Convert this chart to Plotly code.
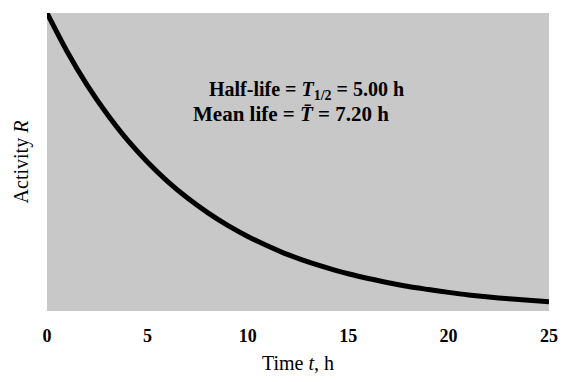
import plotly.graph_objects as go

# Time (h) and activity (relative)
time_h = list(range(0, 26))
activity = [1.000, 0.871, 0.758, 0.660, 0.574, 0.500, 0.435, 0.379, 0.330, 0.287,
            0.250, 0.218, 0.189, 0.165, 0.144, 0.125, 0.109, 0.095, 0.082, 0.072,
            0.0625, 0.054, 0.047, 0.041, 0.036, 0.031]
x_ticks = [0, 5, 10, 15, 20, 25]

SERIF = "Liberation Serif, Times New Roman, serif"

fig = go.Figure()
fig.add_trace(go.Scatter(
    x=time_h, y=activity, mode="lines",
    line=dict(color="black", width=5, shape="spline", smoothing=0.8),
    hoverinfo="skip", showlegend=False,
))

fig.add_annotation(
    x=12.9, y=0.787, xref="x", yref="paper",
    text="<b>Half-life = <i>T</i><sub>1/2</sub> = 5.00 h</b>",
    showarrow=False, font=dict(family=SERIF, size=20, color="black"),
)
fig.add_annotation(
    x=12.13, y=0.707, xref="x", yref="paper",
    text="<b>Mean life = <i>T\u0304</i> = 7.20 h</b>",
    showarrow=False, font=dict(family=SERIF, size=21, color="black"),
)

fig.update_layout(
    width=570, height=382,
    margin=dict(l=47, r=14, t=13, b=69),
    paper_bgcolor="white",
    plot_bgcolor="#c8c8c8",
    font=dict(family=SERIF, color="black"),
    xaxis=dict(
        range=[0, 25], tickvals=x_ticks, ticks="", showgrid=False,
        zeroline=False, showline=False,
        tickfont=dict(family=SERIF, size=18, color="black", weight="bold"),
        ticklabelstandoff=12,
        title=dict(text="Time <i>t</i>, h", standoff=10,
                   font=dict(family=SERIF, size=20, color="black")),
    ),
    yaxis=dict(
        range=[0, 1.0], showticklabels=False, ticks="", showgrid=False,
        zeroline=False, showline=False,
        title=dict(text="Activity <i>R</i>", standoff=12,
                   font=dict(family=SERIF, size=20, color="black")),
    ),
)

fig.write_html(
    "out.html",
    config={"displayModeBar": False, "responsive": False},
    post_script="document.documentElement.style.overflow='hidden';"
                "document.body.style.margin='0';",
)
